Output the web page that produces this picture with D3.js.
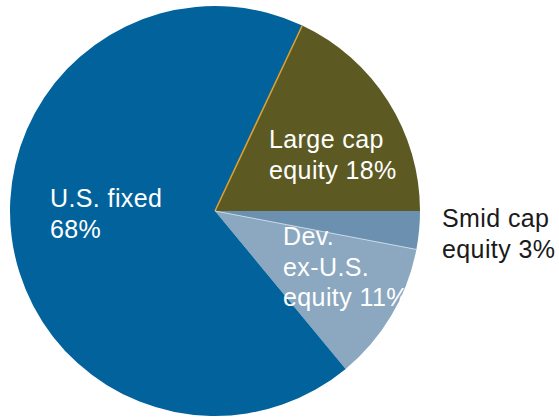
<!DOCTYPE html>
<html lang="en">
<head>
  <meta charset="UTF-8" />
  <title>Allocation pie</title>
  <script src="https://d3js.org/d3.v7.min.js"></script>
  <style>
    body { margin: 0; background: #fff; }
    svg text { font-family: "Liberation Sans", Arial, sans-serif; }
  </style>
</head>
<body>
  <svg id="chart" width="559" height="418"></svg>
  <script>
    // slice data, clockwise from the top-right slice
    const categories = ["Large cap equity", "Smid cap equity", "Dev. ex-U.S. equity", "U.S. fixed"];
    const values = [18, 3, 11, 68];
    const colors = ["#5c5a22", "#6b90b0", "#8ba8c0", "#02639c"];
    const labelLines = [
      ["Large cap", "equity 18%"],
      ["Smid cap", "equity 3%"],
      ["Dev.", "ex-U.S.", "equity 11%"],
      ["U.S. fixed", "68%"]
    ];
    const labelPos = [[269, 148], [442, 227], [283, 245], [50, 207]];
    const labelColor = ["#fff", "#1a1a1a", "#fff", "#fff"];

    const svg = d3.select("#chart");
    const cx = 215, cy = 211, r = 205;
    const start = 25.2 * Math.PI / 180;

    const pie = d3.pie().sort(null)
      .startAngle(start).endAngle(start + 2 * Math.PI)
      .value(d => d);
    const arcs = pie(values);
    const arc = d3.arc().innerRadius(0).outerRadius(r);

    const g = svg.append("g").attr("transform", `translate(${cx},${cy})`);

    g.selectAll("path.slice")
      .data(arcs)
      .enter()
      .append("path")
      .attr("class", "slice")
      .attr("d", arc)
      .attr("fill", (d, i) => colors[i]);

    // separator lines
    const edge = (a, col, w) => g.append("line")
      .attr("x1", 0).attr("y1", 0)
      .attr("x2", r * Math.sin(a)).attr("y2", -r * Math.cos(a))
      .attr("stroke", col).attr("stroke-width", w);
    edge(arcs[0].startAngle, "#e0a030", 1.5);
    edge(arcs[2].startAngle, "#c8d6e2", 1);

    labelLines.forEach((lines, i) => {
      const t = svg.append("text")
        .attr("x", labelPos[i][0])
        .attr("y", labelPos[i][1])
        .attr("fill", labelColor[i])
        .style("font-size", "25px")
        .style("letter-spacing", "0.4px");
      lines.forEach((s, j) => {
        t.append("tspan")
          .attr("x", labelPos[i][0])
          .attr("dy", j === 0 ? 0 : 30.5)
          .text(s);
      });
    });
  </script>
</body>
</html>
